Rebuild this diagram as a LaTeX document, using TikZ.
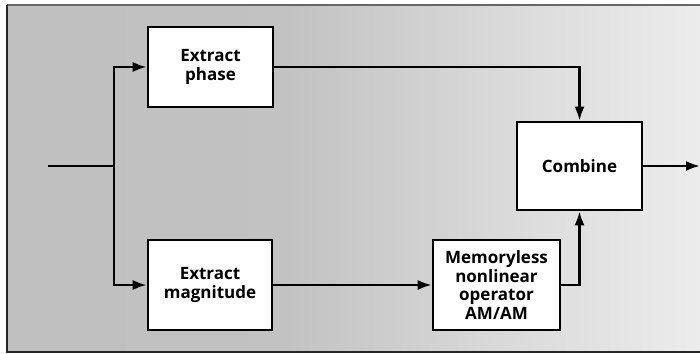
\documentclass[tikz,border=0pt]{standalone}
\usepackage{fontspec}
\setmainfont{Open Sans}
\usetikzlibrary{arrows.meta,calc}
\pgfdeclarehorizontalshading{bgshade}{100bp}{
  color(0bp)=(black!26);
  color(45bp)=(black!24);
  color(62bp)=(black!14);
  color(78bp)=(black!6);
  color(100bp)=(black!4)}
\tikzset{
  blk/.style={draw=black, line width=2.6pt, fill=white, align=center,
    font=\fontsize{17}{18.5}\selectfont\bfseries, inner sep=0pt},
  conn/.style={line width=2.4pt, draw=black},
  arr/.style={conn, -{Latex[length=14pt,width=10pt]}}
}
\begin{document}
\begin{tikzpicture}[x=1pt,y=-1pt]
\useasboundingbox (0,0) rectangle (700,353);
% background
\shade[shading=bgshade] (7,5) rectangle (700,352);
\draw[line width=1.5pt, black!60] (7,5) -- (700,5);
\draw[line width=2.2pt, black!85] (700,352) -- (7,352) -- (7,5);
% blocks
\node[blk, minimum width=125pt, minimum height=80pt] (phase) at (210.5,67) {Extract\\phase};
\node[blk, minimum width=124pt, minimum height=90pt] (mag) at (210,285) {Extract\\magnitude};
\node[blk, minimum width=127pt, minimum height=90pt] (mem) at (496.5,285) {Memoryless\\nonlinear\\operator\\AM/AM};
\node[blk, minimum width=125pt, minimum height=88pt] (comb) at (579.5,166) {Combine};
% coordinates
\coordinate (in) at (48,166);
\coordinate (split) at (114,166);
\coordinate (out) at (700,166);
% connectors
\draw[conn] (in) -- (split);
\draw[arr] (split) |- (phase.west);
\draw[arr] (split) |- (mag.west);
\draw[arr] (phase.east) -| (comb.north);
\draw[arr] (mag.east) -- (mem.west);
\draw[arr] (mem.east) -| (comb.south);
\draw[arr] (comb.east) -- (out);
\end{tikzpicture}
\end{document}
